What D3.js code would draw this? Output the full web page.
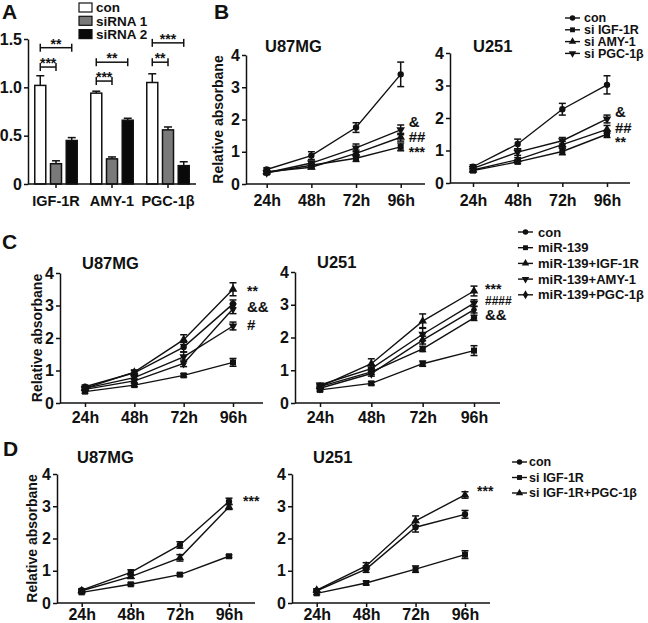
<!DOCTYPE html>
<html><head><meta charset="utf-8">
<script src="https://cdn.jsdelivr.net/npm/d3@7"></script>
<style>
body{margin:0;background:#fff}
svg{display:block}
text{font-family:"Liberation Sans",Arial,Helvetica,sans-serif;font-weight:bold;fill:#111}
</style>
</head><body>
<svg id="c" width="648" height="623"></svg>
<script>
// ---------------- DATA ----------------
// Panel A (bar chart)
const aCategories = ["IGF-1R", "AMY-1", "PGC-1β"];
const aSeries = ["con", "siRNA 1", "siRNA 2"];
const aCon = [1.02, 0.94, 1.05];
const aConErr = [0.10, 0.02, 0.09];
const aSi1 = [0.21, 0.26, 0.56];
const aSi1Err = [0.03, 0.02, 0.03];
const aSi2 = [0.45, 0.66, 0.19];
const aSi2Err = [0.03, 0.02, 0.04];
const aYTicks = [0, 0.5, 1.0, 1.5];
const aYTickLabels = ["0", "0.5", "1.0", "1.5"];
const aSigCat = ["IGF-1R", "IGF-1R", "AMY-1", "AMY-1", "PGC-1β", "PGC-1β"];
const aSigTo = ["siRNA 1", "siRNA 2", "siRNA 1", "siRNA 2", "siRNA 1", "siRNA 2"];
const aSigLabel = ["***", "**", "***", "**", "**", "***"];
const aSigLevel = [1.21, 1.41, 1.065, 1.26, 1.26, 1.46];

// Shared for line charts
const hours = [24, 48, 72, 96];
const timeLabels = ["24h", "48h", "72h", "96h"];
const lineYTicks = [0, 1, 2, 3, 4];
const yLabel = "Relative absorbane";

// Panel B
const bNames = ["con", "si IGF-1R", "si AMY-1", "si PGC-1β"];
const bU87Con = [0.45, 0.88, 1.75, 3.40], bU87ConErr = [0.05, 0.12, 0.15, 0.38];
const bU87IGF = [0.35, 0.58, 0.80, 1.15], bU87IGFErr = [0.05, 0.05, 0.10, 0.12];
const bU87AMY = [0.38, 0.52, 0.95, 1.45], bU87AMYErr = [0.05, 0.05, 0.10, 0.12];
const bU87PGC = [0.35, 0.65, 1.12, 1.68], bU87PGCErr = [0.05, 0.06, 0.12, 0.15];
const bU87Marks = ["&", "##", "***"], bU87MarkLevel = [1.77, 1.30, 0.84];
const bU251Con = [0.50, 1.20, 2.27, 3.02], bU251ConErr = [0.06, 0.15, 0.18, 0.28];
const bU251IGF = [0.38, 0.65, 0.97, 1.50], bU251IGFErr = [0.05, 0.05, 0.10, 0.10];
const bU251AMY = [0.40, 0.72, 1.18, 1.65], bU251AMYErr = [0.05, 0.06, 0.10, 0.12];
const bU251PGC = [0.45, 0.95, 1.30, 1.97], bU251PGCErr = [0.06, 0.10, 0.10, 0.12];
const bU251Marks = ["&", "##", "**"], bU251MarkLevel = [2.02, 1.54, 1.10];

// Panel C
const cNames = ["con", "miR-139", "miR-139+IGF-1R", "miR-139+AMY-1", "miR-139+PGC-1β"];
const cU87Con = [0.50, 0.93, 1.72, 3.05], cU87ConErr = [0.05, 0.08, 0.15, 0.12];
const cU87Mir = [0.35, 0.55, 0.85, 1.25], cU87MirErr = [0.05, 0.05, 0.05, 0.12];
const cU87IGF = [0.45, 0.95, 1.95, 3.50], cU87IGFErr = [0.05, 0.06, 0.15, 0.20];
const cU87AMY = [0.45, 0.78, 1.42, 2.37], cU87AMYErr = [0.05, 0.06, 0.15, 0.12];
const cU87PGC = [0.42, 0.68, 1.22, 2.90], cU87PGCErr = [0.05, 0.06, 0.10, 0.15];
const cU87Marks = ["**", "&&", "#"], cU87MarkLevel = [3.29, 2.80, 2.25];
const cU251Con = [0.50, 0.95, 1.65, 2.60], cU251ConErr = [0.05, 0.08, 0.08, 0.08];
const cU251Mir = [0.40, 0.60, 1.20, 1.60], cU251MirErr = [0.05, 0.05, 0.08, 0.15];
const cU251IGF = [0.50, 1.20, 2.50, 3.42], cU251IGFErr = [0.06, 0.15, 0.22, 0.15];
const cU251AMY = [0.55, 1.05, 2.10, 3.05], cU251AMYErr = [0.05, 0.10, 0.20, 0.10];
const cU251PGC = [0.45, 0.90, 1.92, 2.85], cU251PGCErr = [0.05, 0.08, 0.12, 0.10];
const cU251Marks = ["***", "####", "&&"], cU251MarkLevel = [3.34, 3.00, 2.52];

// Panel D
const dNames = ["con", "si IGF-1R", "si IGF-1R+PGC-1β"];
const dU87Con = [0.40, 0.95, 1.80, 3.15], dU87ConErr = [0.04, 0.08, 0.10, 0.10];
const dU87IGF = [0.33, 0.58, 0.88, 1.45], dU87IGFErr = [0.04, 0.04, 0.04, 0.04];
const dU87Both = [0.38, 0.82, 1.40, 2.98], dU87BothErr = [0.04, 0.06, 0.10, 0.08];
const dU87Marks = ["***"], dU87MarkLevel = [3.00];
const dU251Con = [0.38, 1.05, 2.35, 2.75], dU251ConErr = [0.04, 0.10, 0.15, 0.12];
const dU251IGF = [0.30, 0.62, 1.05, 1.50], dU251IGFErr = [0.04, 0.06, 0.10, 0.12];
const dU251Both = [0.40, 1.15, 2.55, 3.35], dU251BothErr = [0.04, 0.10, 0.15, 0.10];
const dU251Marks = ["***"], dU251MarkLevel = [3.32];

// ---------------- DRAW ----------------
const svg = d3.select("#c");
const INK = "#111";
const TICK_FS = 16;

function markerPath(type, size) {
  if (type === "circle") return d3.symbol(d3.symbolCircle, size)();
  if (type === "square") return d3.symbol(d3.symbolSquare, size)();
  if (type === "diamond") return d3.symbol(d3.symbolDiamond, size)();
  return d3.symbol(d3.symbolTriangle, size)();
}
function addMarker(g, type, cx, cy, size) {
  g.append("path")
    .attr("d", markerPath(type, size))
    .attr("transform", `translate(${cx},${cy})` + (type === "tridown" ? " rotate(180)" : ""))
    .attr("fill", INK);
}

function styleAxis(a, fs) {
  a.selectAll("path,line").attr("stroke", INK).attr("stroke-width", 1.5);
  a.selectAll("text").attr("font-size", fs).attr("fill", INK)
    .attr("font-family", '"Liberation Sans",Arial,sans-serif').attr("font-weight", "bold");
}

function panelLetter(t, x, y) {
  svg.append("text").attr("x", x).attr("y", y).attr("font-size", 21).text(t);
}

function lineChart(o) {
  const g = svg.append("g");
  const x = d3.scaleLinear().domain([24, 96]).range([o.xFirst, o.xLast]);
  const y = d3.scaleLinear().domain([0, 4]).range([o.yZero, o.yTop]);
  // axes
  const ya = g.append("g").attr("transform", `translate(${o.x0},0)`)
    .call(d3.axisLeft(y).tickValues(lineYTicks).tickSize(4).tickSizeOuter(0).tickPadding(2).tickFormat(d3.format("d")));
  styleAxis(ya, TICK_FS);
  g.append("line").attr("x1", o.x0).attr("x2", o.x1).attr("y1", o.yZero).attr("y2", o.yZero)
    .attr("stroke", INK).attr("stroke-width", 1.5);
  const xa = g.append("g").attr("transform", `translate(0,${o.yZero})`)
    .call(d3.axisBottom(x).tickValues(hours).tickSize(4).tickPadding(o.xPad).tickFormat((d, i) => timeLabels[i]));
  xa.select(".domain").remove();
  styleAxis(xa, TICK_FS);
  // title
  g.append("text").attr("x", o.titleX).attr("y", o.titleY).attr("font-size", 16.5).text(o.title);
  if (o.yLabelX) {
    g.append("text").attr("transform", `translate(${o.yLabelX},${(o.yZero + o.yTop) / 2}) rotate(-90)`)
      .attr("text-anchor", "middle").attr("dy", "0.35em").attr("font-size", 14).text(yLabel);
  }
  // series
  const line = d3.line().x(d => x(d.h)).y(d => y(d.v));
  o.series.forEach(s => {
    const pts = hours.map((h, i) => ({ h, v: s.values[i], e: s.errs[i] }));
    g.append("path").datum(pts).attr("d", line).attr("fill", "none").attr("stroke", INK).attr("stroke-width", 1.4);
    pts.forEach(p => {
      const cx = x(p.h), yt = y(p.v + p.e), yb = y(p.v - p.e);
      g.append("line").attr("x1", cx).attr("x2", cx).attr("y1", yt).attr("y2", yb).attr("stroke", INK).attr("stroke-width", 1.5);
      [yt, yb].forEach(yy => g.append("line").attr("x1", cx - 3.5).attr("x2", cx + 3.5).attr("y1", yy).attr("y2", yy).attr("stroke", INK).attr("stroke-width", 1.5));
      addMarker(g, s.type, cx, y(p.v), s.type === "square" ? 36 : 32);
    });
  });
  // significance marks
  o.marks.forEach((m, i) => {
    g.append("text").attr("x", x(96) + o.markDx).attr("y", y(o.markLevel[i]))
      .attr("font-size", m === "####" ? 12 : (m.includes("*") ? 14 : 15)).attr("font-weight", m.includes("*") ? "bold" : "normal")
      .text(m);
  });
  // legend
  if (o.legend) {
    const L = o.legend;
    L.names.forEach((n, i) => {
      const yy = L.y + i * L.step;
      g.append("line").attr("x1", L.x).attr("x2", L.x + 15).attr("y1", yy).attr("y2", yy).attr("stroke", INK).attr("stroke-width", 1.4);
      addMarker(g, o.series[i].type, L.x + 7.5, yy, 24);
      g.append("text").attr("x", L.x + L.tx).attr("y", yy).attr("dy", "0.35em").attr("font-size", L.fs).text(n);
    });
  }
}

// ---------- Panel A ----------
(function () {
  const g = svg.append("g");
  const x0 = 28, x1 = 196, yZero = 184, yTop = 39;
  const x = d3.scaleBand().domain(aCategories).range([28, 196]).paddingInner(0).paddingOuter(0);
  const xi = d3.scaleBand().domain(aSeries).range([0, x.bandwidth()]).paddingInner(0.3).paddingOuter(0.43);
  const y = d3.scaleLinear().domain([0, 1.5]).range([yZero, yTop]);
  const vals = [aCon, aSi1, aSi2], errs = [aConErr, aSi1Err, aSi2Err];
  const fills = ["#ffffff", "#7a7a7a", "#0a0a0a"];
  aSeries.forEach((s, si) => {
    aCategories.forEach((c, ci) => {
      const bx = x(c) + xi(s), bw = xi.bandwidth(), v = vals[si][ci], e = errs[si][ci];
      const cx = bx + bw / 2;
      g.append("line").attr("x1", cx).attr("x2", cx).attr("y1", y(v)).attr("y2", y(v + e)).attr("stroke", INK).attr("stroke-width", 1.5);
      g.append("line").attr("x1", cx - 4).attr("x2", cx + 4).attr("y1", y(v + e)).attr("y2", y(v + e)).attr("stroke", INK).attr("stroke-width", 1.5);
      g.append("rect").attr("x", bx).attr("y", y(v)).attr("width", bw).attr("height", yZero - y(v))
        .attr("fill", fills[si]).attr("stroke", INK).attr("stroke-width", 1.5);
    });
  });
  const ya = g.append("g").attr("transform", `translate(${x0},0)`)
    .call(d3.axisLeft(y).tickValues(aYTicks).tickSize(4).tickSizeOuter(0).tickPadding(2).tickFormat((d, i) => aYTickLabels[i]));
  styleAxis(ya, TICK_FS);
  g.append("line").attr("x1", x0).attr("x2", x1).attr("y1", yZero).attr("y2", yZero).attr("stroke", INK).attr("stroke-width", 1.5);
  const xa = g.append("g").attr("transform", `translate(0,${yZero})`)
    .call(d3.axisBottom(x).tickSize(4).tickPadding(7.5));
  xa.select(".domain").remove();
  styleAxis(xa, 14.5);
  // significance brackets
  aSigCat.forEach((c, i) => {
    const xa1 = x(c) + xi("con") + xi.bandwidth() / 2;
    const xa2 = x(c) + xi(aSigTo[i]) + xi.bandwidth() / 2;
    const yy = y(aSigLevel[i]);
    g.append("line").attr("x1", xa1).attr("x2", xa2).attr("y1", yy).attr("y2", yy).attr("stroke", INK).attr("stroke-width", 1.5);
    [xa1, xa2].forEach(xx => g.append("line").attr("x1", xx).attr("x2", xx).attr("y1", yy - 4).attr("y2", yy + 4).attr("stroke", INK).attr("stroke-width", 1.5));
    g.append("text").attr("x", (xa1 + xa2) / 2).attr("y", yy + 1).attr("text-anchor", "middle").attr("font-size", 14).text(aSigLabel[i]);
  });
  // legend
  aSeries.forEach((s, i) => {
    const yy = 7.5 + i * 13.3;
    g.append("rect").attr("x", 79).attr("y", yy - 4.5).attr("width", 13).attr("height", 9)
      .attr("fill", fills[i]).attr("stroke", INK).attr("stroke-width", 1.2);
    g.append("text").attr("x", 96).attr("y", yy).attr("dy", "0.35em").attr("font-size", 13.5).text(s);
  });
  panelLetter("A", 2, 19);
})();

// ---------- Panel B ----------
panelLetter("B", 214, 19);
lineChart({
  x0: 246, x1: 425, xFirst: 266.7, xLast: 400.7, yZero: 184, yTop: 55, xPad: 7,
  title: "U87MG", titleX: 265, titleY: 52, yLabelX: 218,
  series: [
    { values: bU87Con, errs: bU87ConErr, type: "circle" },
    { values: bU87IGF, errs: bU87IGFErr, type: "square" },
    { values: bU87AMY, errs: bU87AMYErr, type: "triangle" },
    { values: bU87PGC, errs: bU87PGCErr, type: "tridown" }
  ],
  marks: bU87Marks, markLevel: bU87MarkLevel, markDx: 8
});
lineChart({
  x0: 450, x1: 630, xFirst: 473, xLast: 607, yZero: 183, yTop: 53, xPad: 8,
  title: "U251", titleX: 473, titleY: 52,
  series: [
    { values: bU251Con, errs: bU251ConErr, type: "circle" },
    { values: bU251IGF, errs: bU251IGFErr, type: "square" },
    { values: bU251AMY, errs: bU251AMYErr, type: "triangle" },
    { values: bU251PGC, errs: bU251PGCErr, type: "tridown" }
  ],
  marks: bU251Marks, markLevel: bU251MarkLevel, markDx: 8,
  legend: { names: bNames, x: 565, y: 18, step: 11.8, tx: 19, fs: 12.5 }
});

// ---------- Panel C ----------
panelLetter("C", 2, 249);
lineChart({
  x0: 60, x1: 263, xFirst: 85, xLast: 233, yZero: 403, yTop: 273, xPad: 5,
  title: "U87MG", titleX: 82, titleY: 269, yLabelX: 37,
  series: [
    { values: cU87Con, errs: cU87ConErr, type: "circle" },
    { values: cU87Mir, errs: cU87MirErr, type: "square" },
    { values: cU87IGF, errs: cU87IGFErr, type: "triangle" },
    { values: cU87AMY, errs: cU87AMYErr, type: "tridown" },
    { values: cU87PGC, errs: cU87PGCErr, type: "diamond" }
  ],
  marks: cU87Marks, markLevel: cU87MarkLevel, markDx: 14
});
lineChart({
  x0: 295, x1: 500, xFirst: 320, xLast: 474, yZero: 403, yTop: 272, xPad: 5,
  title: "U251", titleX: 317, titleY: 268,
  series: [
    { values: cU251Con, errs: cU251ConErr, type: "circle" },
    { values: cU251Mir, errs: cU251MirErr, type: "square" },
    { values: cU251IGF, errs: cU251IGFErr, type: "triangle" },
    { values: cU251AMY, errs: cU251AMYErr, type: "tridown" },
    { values: cU251PGC, errs: cU251PGCErr, type: "diamond" }
  ],
  marks: cU251Marks, markLevel: cU251MarkLevel, markDx: 11,
  legend: { names: cNames, x: 518, y: 232, step: 15.7, tx: 20, fs: 13 }
});

// ---------- Panel D ----------
panelLetter("D", 3, 456);
lineChart({
  x0: 57, x1: 255, xFirst: 81.7, xLast: 229, yZero: 603, yTop: 474, xPad: 2,
  title: "U87MG", titleX: 77, titleY: 463, yLabelX: 32,
  series: [
    { values: dU87Con, errs: dU87ConErr, type: "circle" },
    { values: dU87IGF, errs: dU87IGFErr, type: "square" },
    { values: dU87Both, errs: dU87BothErr, type: "triangle" }
  ],
  marks: dU87Marks, markLevel: dU87MarkLevel, markDx: 14
});
lineChart({
  x0: 292, x1: 490, xFirst: 316.7, xLast: 465, yZero: 603, yTop: 474, xPad: 2,
  title: "U251", titleX: 313, titleY: 463,
  series: [
    { values: dU251Con, errs: dU251ConErr, type: "circle" },
    { values: dU251IGF, errs: dU251IGFErr, type: "square" },
    { values: dU251Both, errs: dU251BothErr, type: "triangle" }
  ],
  marks: dU251Marks, markLevel: dU251MarkLevel, markDx: 12,
  legend: { names: dNames, x: 512, y: 462, step: 15.5, tx: 17, fs: 12.5 }
});
</script>
</body></html>
